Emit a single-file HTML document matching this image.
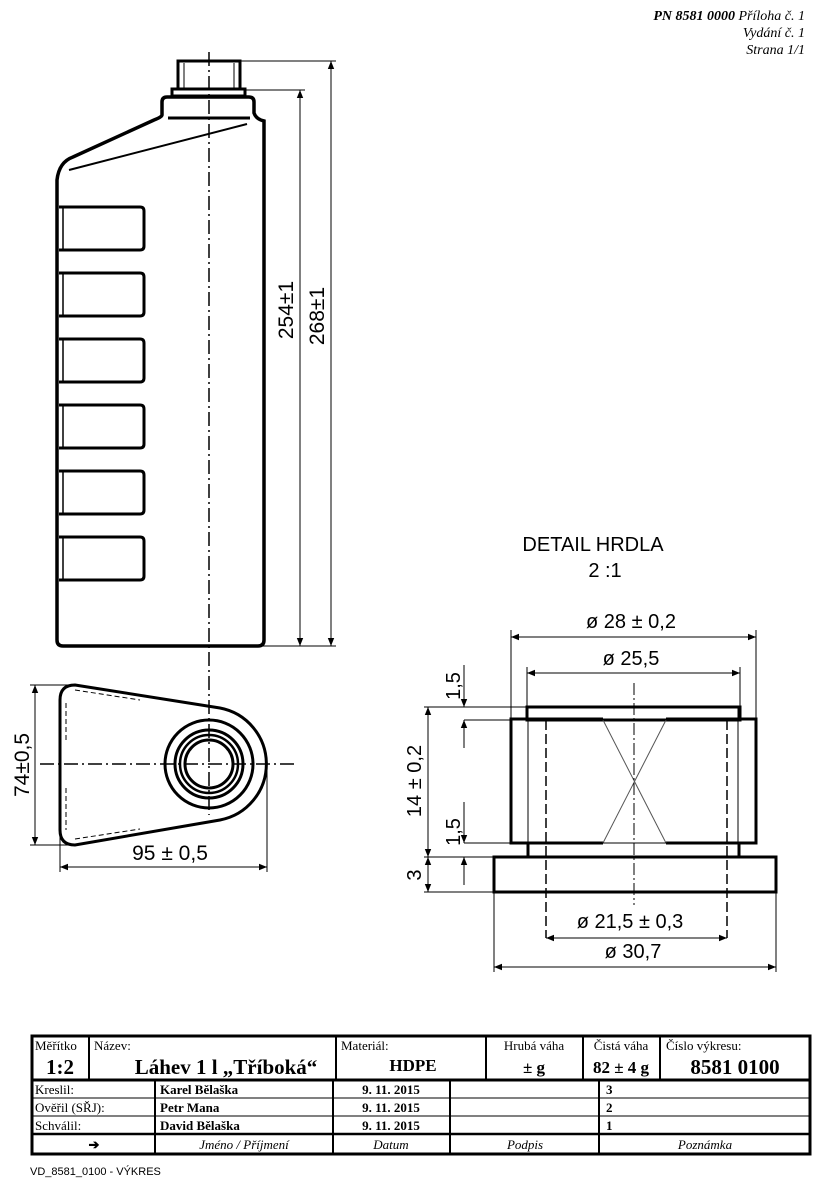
<!DOCTYPE html>
<html><head><meta charset="utf-8"><style>
html,body{margin:0;padding:0;background:#fff;}
svg{display:block;}
.s{font-family:"Liberation Sans",sans-serif;}
.r{font-family:"Liberation Serif",serif;}
</style></head><body>
<svg width="824" height="1191" viewBox="0 0 824 1191" xmlns="http://www.w3.org/2000/svg">
<defs>
<marker id="a" viewBox="0 0 10 10" refX="10" refY="5" markerWidth="11" markerHeight="8" markerUnits="userSpaceOnUse" orient="auto-start-reverse"><path d="M0,1 L10,5 L0,9 z" fill="#000"/></marker>
</defs>
<!-- header -->
<g class="r" font-style="italic" font-size="14" text-anchor="end">
<text x="805" y="20"><tspan font-weight="bold">PN  8581  0000</tspan>  Příloha č. 1</text>
<text x="805" y="37">Vydání č. 1</text>
<text x="805" y="54">Strana 1/1</text>
</g>

<!-- side view bottle -->
<g fill="none" stroke="#000">
<rect x="178" y="61" width="62" height="28" stroke-width="3"/>
<line x1="184" y1="63" x2="184" y2="88" stroke-width="1"/>
<line x1="234" y1="63" x2="234" y2="88" stroke-width="1"/>
<rect x="172" y="89" width="73" height="7" stroke-width="3"/>
<path d="M162,115 L162,102 Q162,97 167,97 L249,97 Q254,97 254,102 L254,113 Q256,119 264,121 L264,640 Q264,646 258,646 L63,646 Q57,646 57,640 L57,180 Q59,162 73,157 L154,120 Q162,117 162,115" stroke-width="3.5"/>
<line x1="168" y1="118" x2="250" y2="118" stroke-width="3"/>
<line x1="247" y1="124" x2="69" y2="170" stroke-width="2"/>
</g>
<g fill="none" stroke="#000" stroke-width="3">
<path d="M59,207 L140,207 Q144,207 144,211 L144,246 Q144,250 140,250 L59,250"/>
<path d="M59,273 L140,273 Q144,273 144,277 L144,312 Q144,316 140,316 L59,316"/>
<path d="M59,339 L140,339 Q144,339 144,343 L144,378 Q144,382 140,382 L59,382"/>
<path d="M59,405 L140,405 Q144,405 144,409 L144,444 Q144,448 140,448 L59,448"/>
<path d="M59,471 L140,471 Q144,471 144,475 L144,510 Q144,514 140,514 L59,514"/>
<path d="M59,537 L140,537 Q144,537 144,541 L144,576 Q144,580 140,580 L59,580"/>
</g>
<g stroke="#000" stroke-width="1.5">
<line x1="63" y1="207" x2="63" y2="250"/><line x1="63" y1="273" x2="63" y2="316"/>
<line x1="63" y1="339" x2="63" y2="382"/><line x1="63" y1="405" x2="63" y2="448"/>
<line x1="63" y1="471" x2="63" y2="514"/><line x1="63" y1="537" x2="63" y2="580"/>
</g>
<line x1="209" y1="52" x2="209" y2="700" stroke="#000" stroke-width="1.5" stroke-dasharray="14,4,2,4"/>
<!-- vertical dims -->
<g stroke="#000" stroke-width="1">
<line x1="240" y1="61" x2="336" y2="61"/>
<line x1="245" y1="90" x2="305" y2="90"/>
<line x1="258" y1="646" x2="336" y2="646"/>
<line x1="300" y1="90" x2="300" y2="646" marker-start="url(#a)" marker-end="url(#a)"/>
<line x1="331" y1="61" x2="331" y2="646" marker-start="url(#a)" marker-end="url(#a)"/>
</g>
<g class="s" font-size="21">
<text transform="translate(293,310) rotate(-90)" text-anchor="middle">254±1</text>
<text transform="translate(324,316) rotate(-90)" text-anchor="middle">268±1</text>
</g>

<!-- top view -->
<g fill="none" stroke="#000">
<path d="M75,685 L220,708 A57,57 0 0 1 220,820 L75,845 Q60,845 60,830 L60,700 Q60,685 75,685 Z" stroke-width="3"/>
<path d="M75,690 L140,700 M66,703 L66,740 M66,788 L66,830 M75,839 L140,829" stroke-width="1" stroke-dasharray="5,3"/>
<circle cx="209" cy="764" r="44" stroke-width="3"/>
<circle cx="209" cy="764" r="34" stroke-width="3"/>
<circle cx="209" cy="764" r="29" stroke-width="2.5"/>
<circle cx="209" cy="764" r="24" stroke-width="3"/>
</g>
<g stroke="#000" stroke-width="1.5" stroke-dasharray="14,4,2,4">
<line x1="40" y1="764" x2="298" y2="764"/>
<line x1="209" y1="700" x2="209" y2="815"/>
</g>
<g stroke="#000" stroke-width="1">
<line x1="30" y1="685" x2="75" y2="685"/>
<line x1="30" y1="845" x2="75" y2="845"/>
<line x1="35" y1="685" x2="35" y2="845" marker-start="url(#a)" marker-end="url(#a)"/>
<line x1="60" y1="830" x2="60" y2="872"/>
<line x1="267" y1="764" x2="267" y2="872"/>
<line x1="60" y1="867" x2="267" y2="867" marker-start="url(#a)" marker-end="url(#a)"/>
</g>
<g class="s" font-size="21">
<text transform="translate(29,765) rotate(-90)" text-anchor="middle">74±0,5</text>
<text x="170" y="860" text-anchor="middle">95 ± 0,5</text>
</g>

<!-- detail -->
<g class="s" font-size="20" text-anchor="middle">
<text x="593" y="551">DETAIL HRDLA</text>
<text x="605" y="577">2 :1</text>
</g>
<g fill="none" stroke="#000" stroke-width="3">
<rect x="527" y="707" width="213" height="13"/>
<path d="M603,719 L511,719 L511,843 L603,843 M666,719 L756,719 L756,843 L666,843"/>
<line x1="528" y1="843" x2="528" y2="857"/>
<line x1="739" y1="843" x2="739" y2="857"/>
<rect x="494" y="857" width="282" height="35"/>
</g>
<g stroke="#000" stroke-width="1">
<line x1="603" y1="720" x2="666" y2="843" stroke="#555"/>
<line x1="666" y1="720" x2="603" y2="843" stroke="#555"/>
<line x1="603" y1="720" x2="666" y2="720"/><line x1="603" y1="843" x2="666" y2="843"/>
<line x1="528" y1="707" x2="528" y2="843"/>
<line x1="738" y1="707" x2="738" y2="843"/>
</g>
<g stroke="#000" stroke-width="1.5" stroke-dasharray="10,4">
<line x1="546" y1="720" x2="546" y2="938"/>
<line x1="727" y1="720" x2="727" y2="938"/>
</g>
<line x1="634" y1="683" x2="634" y2="905" stroke="#000" stroke-width="1" stroke-dasharray="12,3,2,3"/>
<g stroke="#000" stroke-width="1">
<line x1="511" y1="630" x2="511" y2="719"/><line x1="756" y1="630" x2="756" y2="719"/>
<line x1="511" y1="637" x2="756" y2="637" marker-start="url(#a)" marker-end="url(#a)"/>
<line x1="527" y1="667" x2="527" y2="707"/><line x1="740" y1="667" x2="740" y2="707"/>
<line x1="527" y1="673" x2="740" y2="673" marker-start="url(#a)" marker-end="url(#a)"/>
<line x1="546" y1="938" x2="727" y2="938" marker-start="url(#a)" marker-end="url(#a)"/>
<line x1="494" y1="892" x2="494" y2="972"/><line x1="776" y1="892" x2="776" y2="972"/>
<line x1="494" y1="967" x2="776" y2="967" marker-start="url(#a)" marker-end="url(#a)"/>
<line x1="424" y1="707" x2="527" y2="707"/>
<line x1="464" y1="720" x2="511" y2="720"/>
<line x1="464" y1="843" x2="511" y2="843"/>
<line x1="424" y1="857" x2="494" y2="857"/>
<line x1="424" y1="892" x2="494" y2="892"/>
<line x1="428" y1="707" x2="428" y2="857" marker-start="url(#a)" marker-end="url(#a)"/>
<line x1="428" y1="857" x2="428" y2="892" marker-start="url(#a)" marker-end="url(#a)"/>
<line x1="464" y1="665" x2="464" y2="707" marker-end="url(#a)"/>
<line x1="464" y1="748" x2="464" y2="720" marker-end="url(#a)"/>
<line x1="464" y1="802" x2="464" y2="843" marker-end="url(#a)"/>
<line x1="464" y1="885" x2="464" y2="857" marker-end="url(#a)"/>
</g>
<g class="s" font-size="20" text-anchor="middle">
<text x="631" y="628">ø 28 ± 0,2</text>
<text x="631" y="665">ø 25,5</text>
<text x="630" y="928">ø 21,5 ± 0,3</text>
<text x="633" y="958">ø 30,7</text>
<text transform="translate(421,781) rotate(-90)">14 ± 0,2</text>
<text transform="translate(460,686) rotate(-90)">1,5</text>
<text transform="translate(460,832) rotate(-90)">1,5</text>
<text transform="translate(421,875) rotate(-90)">3</text>
</g>

<!-- title block -->
<g fill="none" stroke="#000">
<rect x="32" y="1036" width="778" height="118" stroke-width="3"/>
<line x1="32" y1="1080" x2="810" y2="1080" stroke-width="3"/>
<line x1="32" y1="1134" x2="810" y2="1134" stroke-width="2.5"/>
<line x1="32" y1="1098" x2="810" y2="1098" stroke-width="1"/>
<line x1="32" y1="1116" x2="810" y2="1116" stroke-width="1"/>
<g stroke-width="2">
<line x1="89" y1="1036" x2="89" y2="1080"/>
<line x1="336" y1="1036" x2="336" y2="1080"/>
<line x1="486" y1="1036" x2="486" y2="1080"/>
<line x1="583" y1="1036" x2="583" y2="1080"/>
<line x1="660" y1="1036" x2="660" y2="1080"/>
<line x1="155" y1="1080" x2="155" y2="1154"/>
<line x1="333" y1="1080" x2="333" y2="1154"/>
<line x1="450" y1="1080" x2="450" y2="1154"/>
<line x1="599" y1="1080" x2="599" y2="1154"/>
</g>
</g>
<g class="r" font-size="13">
<text x="35" y="1050">Měřítko</text>
<text x="94" y="1050">Název:</text>
<text x="341" y="1050">Materiál:</text>
<text x="534" y="1050" text-anchor="middle">Hrubá váha</text>
<text x="621" y="1050" text-anchor="middle">Čistá váha</text>
<text x="666" y="1050">Číslo výkresu:</text>
<text x="35" y="1094">Kreslil:</text>
<text x="35" y="1112">Ověřil (SŘJ):</text>
<text x="35" y="1130">Schválil:</text>
</g>
<g class="r" font-size="21" font-weight="bold" text-anchor="middle">
<text x="60" y="1074">1:2</text>
<text x="226" y="1074">Láhev 1 l „Tříboká“</text>
<text x="534" y="1073" font-size="17">±  g</text>
<text x="621" y="1073" font-size="17">82 ± 4 g</text>
<text x="735" y="1074">8581 0100</text>
<text x="413" y="1071" font-size="17">HDPE</text>
</g>
<g class="r" font-size="13" font-weight="bold">
<text x="160" y="1094">Karel Bělaška</text>
<text x="160" y="1112">Petr Mana</text>
<text x="160" y="1130">David Bělaška</text>
<text x="391" y="1094" text-anchor="middle">9. 11. 2015</text>
<text x="391" y="1112" text-anchor="middle">9. 11. 2015</text>
<text x="391" y="1130" text-anchor="middle">9. 11. 2015</text>
<text x="606" y="1094">3</text>
<text x="606" y="1112">2</text>
<text x="606" y="1130">1</text>
<text x="94" y="1149" text-anchor="middle">➔</text>
</g>
<g class="r" font-size="13" font-style="italic" text-anchor="middle">
<text x="244" y="1149">Jméno / Příjmení</text>
<text x="391" y="1149">Datum</text>
<text x="525" y="1149">Podpis</text>
<text x="705" y="1149">Poznámka</text>
</g>
<text x="30" y="1175" class="s" font-size="11">VD_8581_0100 - VÝKRES</text>
</svg>
</body></html>
